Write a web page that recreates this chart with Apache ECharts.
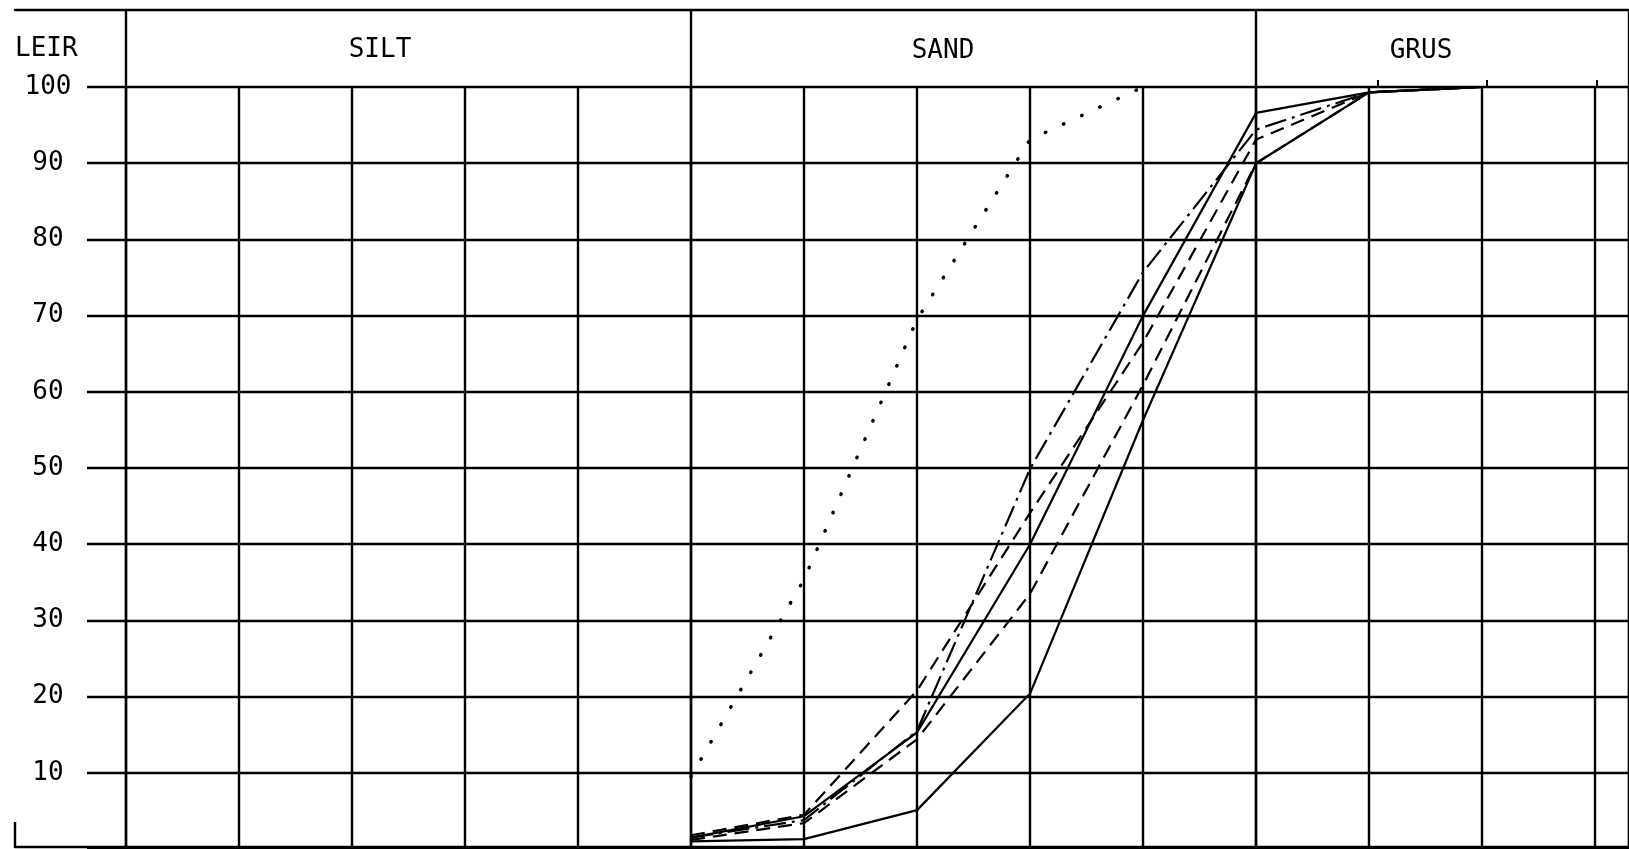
<!DOCTYPE html>
<html>
<head>
<meta charset="utf-8">
<script src="https://cdn.jsdelivr.net/npm/echarts@6/dist/echarts.min.js"></script>
<style>
html,body{margin:0;padding:0;background:#fff;}
#chart{width:1629px;height:849px;}
</style>
</head>
<body>
<div id="chart"></div>
<script>
// Grain-size (sieve) steps: each vertical grid line is one doubling of grain size (mm)
const sieveSizes = ['0.002','0.004','0.008','0.016','0.032','0.063','0.125','0.25','0.5','1','2','4','8','16'];
// index positions (into sieveSizes) where the curves have points
const curveX = [5, 6, 7, 8, 9, 10, 11, 12, 13];
// percent passing
const curveSolidLow   = [1.0, 1.3, 5.1, 20.4, 56.3, 90.0, 99.3, 100, 100];
const curveDashDot    = [1.5, 3.8, 15.5, 49.9, 75.7, 94.4, 99.3, 100, 100];
const curveSolidMid   = [1.5, 4.3, 15.3, 40.0, 70.0, 96.6, 99.3, 100, 100];
const curveDashedHigh = [1.8, 4.5, 20.8, 44.1, 66.5, 93.1, 99.3, 100, 100];
const curveDashedLow  = [1.2, 3.4, 14.4, 33.5, 60.9, 90.0, 99.3, 100, 100];
const dottedX = [5, 6, 7, 8, 9];
const curveDotted = [9.5, 35.4, 69.5, 93.1, 100];
// y tick labels
const yTicks = [10, 20, 30, 40, 50, 60, 70, 80, 90, 100];
// header labels
const headers = ['LEIR', 'SILT', 'SAND', 'GRUS'];

const pairs = (xs, ys) => xs.map((x, i) => [x, ys[i]]);
const BLACK = '#000';
const GW = 2.4;
const gridLine = {show: true, lineStyle: {color: BLACK, width: GW}};
const FONT = '"DejaVu Sans Mono", monospace';
const STEP = 1514 / 13.3;

function lineSeries(name, xs, ys, type, width, cap) {
  return {
    name: name, type: 'line', xAxisIndex: 1, yAxisIndex: 1,
    data: pairs(xs, ys), showSymbol: false, symbol: 'none', silent: true,
    lineStyle: {color: BLACK, width: width || 2.2, type: type, cap: cap || 'butt'},
    z: 5
  };
}

const chart = echarts.init(document.getElementById('chart'), null, {renderer: 'canvas'});
chart.setOption({
  animation: false,
  backgroundColor: '#fff',
  grid: [
    {left: 87, top: 87, width: 1560, height: 766},
    {left: 126, top: 87, width: 1514, height: 766},
    {left: 126, top: 10, width: 1514, height: 843},
    {left: 15, top: 10, width: 1630, height: 837},
    {left: 126 + 11 * STEP, top: 87, width: 2.3 * STEP, height: 766}
  ],
  xAxis: [
    {gridIndex: 0, type: 'value', min: 0, max: 1, show: false},
    {gridIndex: 1, type: 'value', min: 0, max: 13.3, interval: 1,
      axisLine: {show: false}, axisTick: {show: false}, axisLabel: {show: false}, splitLine: gridLine},
    {gridIndex: 2, type: 'value', min: 0, max: 13.3, interval: 5,
      axisLine: {show: false}, axisTick: {show: false}, axisLabel: {show: false}, splitLine: gridLine},
    {gridIndex: 3, type: 'value', min: 0, max: 1, position: 'top',
      axisLine: {show: true, onZero: false, lineStyle: {color: BLACK, width: GW}},
      axisTick: {show: false}, axisLabel: {show: false}, splitLine: {show: false}},
    {gridIndex: 3, type: 'value', min: 0, max: 1, position: 'bottom',
      axisLine: {show: true, onZero: false, lineStyle: {color: BLACK, width: GW}},
      axisTick: {show: false}, axisLabel: {show: false}, splitLine: {show: false}},
    {gridIndex: 4, type: 'value', min: 11, max: 13.3, interval: 1, position: 'top',
      axisLine: {show: false, onZero: false},
      axisTick: {show: true, length: 7, inside: false, lineStyle: {color: BLACK, width: 2}},
      axisLabel: {show: false}, splitLine: {show: false}}
  ],
  yAxis: [
    {gridIndex: 0, type: 'value', min: 0, max: 100, interval: 10,
      axisLine: {show: false}, axisTick: {show: false},
      axisLabel: {show: true, margin: 39, align: 'center', color: BLACK,
        fontFamily: FONT, fontSize: 26, padding: [4, 0, 0, 0],
        formatter: v => (yTicks.indexOf(v) >= 0 ? String(v) : '')},
      splitLine: gridLine},
    {gridIndex: 1, type: 'value', min: 0, max: 100, show: false},
    {gridIndex: 2, type: 'value', min: 0, max: 1, show: false},
    {gridIndex: 3, type: 'value', min: 0, max: 1, show: false},
    {gridIndex: 4, type: 'value', min: 0, max: 1, show: false}
  ],
  series: [
    lineSeries('solid-low', curveX, curveSolidLow, 'solid'),
    lineSeries('solid-mid', curveX, curveSolidMid, 'solid'),
    lineSeries('dash-dot', curveX, curveDashDot, [22, 6, 3, 6]),
    lineSeries('dashed-high', curveX, curveDashedHigh, [14, 8]),
    lineSeries('dashed-low', curveX, curveDashedLow, [14, 8]),
    lineSeries('dotted', dottedX, curveDotted, [0.5, 19.5], 3.5, 'round')
  ],
  graphic: [
    {type: 'text', left: 15, top: 36, silent: true,
      style: {text: headers[0], fill: BLACK, font: '26px ' + FONT}},
    {type: 'text', x: 380, y: 50, silent: true,
      style: {text: headers[1], fill: BLACK, font: '26px ' + FONT, align: 'center', verticalAlign: 'middle'}},
    {type: 'text', x: 943, y: 51, silent: true,
      style: {text: headers[2], fill: BLACK, font: '26px ' + FONT, align: 'center', verticalAlign: 'middle'}},
    {type: 'text', x: 1421, y: 51, silent: true,
      style: {text: headers[3], fill: BLACK, font: '26px ' + FONT, align: 'center', verticalAlign: 'middle'}},
    {type: 'line', silent: true, shape: {x1: 15, y1: 822, x2: 15, y2: 847},
      style: {stroke: BLACK, lineWidth: GW}}
  ]
});
</script>
</body>
</html>
